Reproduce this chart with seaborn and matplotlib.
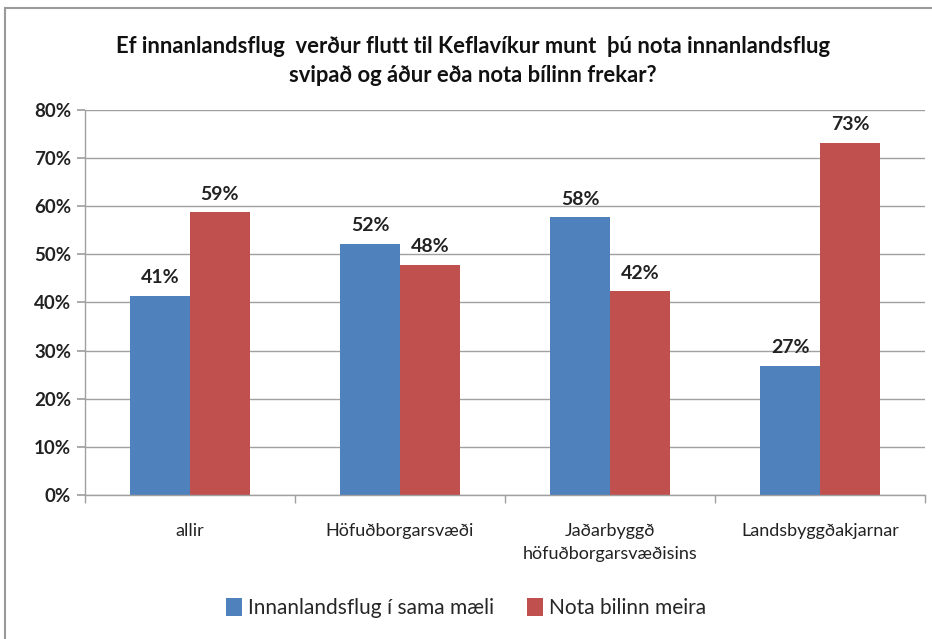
import matplotlib
matplotlib.use("Agg")
import matplotlib.pyplot as plt
import matplotlib.patches as mpatches
import pandas as pd
import seaborn as sns

# --- data ---
categories = ["allir", "Höfuðborgarsvæði", "Jaðarbyggð\nhöfuðborgarsvæðisins", "Landsbyggðakjarnar"]
series_names = ["Innanlandsflug í sama mæli", "Nota bilinn meira"]
same_values = [41.3, 52.2, 57.7, 26.8]
car_values = [58.7, 47.8, 42.3, 73.2]
y_ticks = [0, 10, 20, 30, 40, 50, 60, 70, 80]
title = ("Ef innanlandsflug  verður flutt til Keflavíkur munt  þú nota innanlandsflug\n"
         "svipað og áður eða nota bílinn frekar?")

colors = ["#4F81BD", "#C0504D"]

df = pd.DataFrame({
    "flokkur": categories * 2,
    "svar": [series_names[0]] * len(categories) + [series_names[1]] * len(categories),
    "hlutfall": same_values + car_values,
})

sns.set_theme(style="white")
plt.rcParams["font.family"] = ["Lato", "DejaVu Sans"]

fig = plt.figure(figsize=(9.32, 6.39), dpi=100)
ax = fig.add_axes([0.0912, 0.2254, 0.9013, 0.6025])

sns.barplot(data=df, x="flokkur", y="hlutfall", hue="svar", order=categories,
            hue_order=series_names, palette=colors, width=0.57, saturation=1,
            errorbar=None, ax=ax, legend=False, linewidth=0)

for cont in ax.containers:
    ax.bar_label(cont, labels=[f"{v:.0f}%" for v in cont.datavalues],
                 padding=7, fontsize=14, fontweight="bold", color="#222222")

ax.set_ylim(0, 80)
ax.set_xlim(-0.5, len(categories) - 0.5)
ax.set_yticks(y_ticks)
ax.set_yticklabels([f"{t}%" for t in y_ticks], fontsize=13.5, fontweight="bold", color="#222222")
ax.yaxis.grid(True, color="#A0A0A0", linewidth=1)
ax.set_axisbelow(True)
ax.set_xlabel("")
ax.set_ylabel("")

ax.set_xticks(range(len(categories)))
ax.set_xticklabels(categories, fontsize=13, color="#222222", linespacing=1.55, va="top")
ax.tick_params(axis="x", which="major", length=0, pad=20)
ax.set_xticks([i - 0.5 for i in range(len(categories) + 1)], minor=True)
ax.tick_params(axis="x", which="minor", length=6, color="#A0A0A0", direction="out", bottom=True)
ax.tick_params(axis="y", length=6, color="#A0A0A0", direction="out", left=True, pad=4)

for side in ["top", "right"]:
    ax.spines[side].set_visible(False)
for side in ["left", "bottom"]:
    ax.spines[side].set_color("#A0A0A0")
    ax.spines[side].set_linewidth(1)

fig.text(0.507, 0.905, title, ha="center", va="center", fontsize=15.8,
         fontweight="bold", color="#111111", linespacing=1.45)

handles = [mpatches.Patch(facecolor=c, edgecolor="none") for c in colors]
fig.legend(handles, series_names, loc="center", bbox_to_anchor=(0.5, 0.048),
           ncol=2, frameon=False, fontsize=15, handlelength=0.75, handleheight=0.9,
           handletextpad=0.3, columnspacing=1.6)

# outer chart frame
fig.patches.append(mpatches.Rectangle((0.005, -0.05), 1.2, 0.05 + 0.9875, transform=fig.transFigure,
                                      fill=False, edgecolor="#9A9A9A", linewidth=1.5))

fig.savefig("out.png", dpi=100, facecolor="white")
